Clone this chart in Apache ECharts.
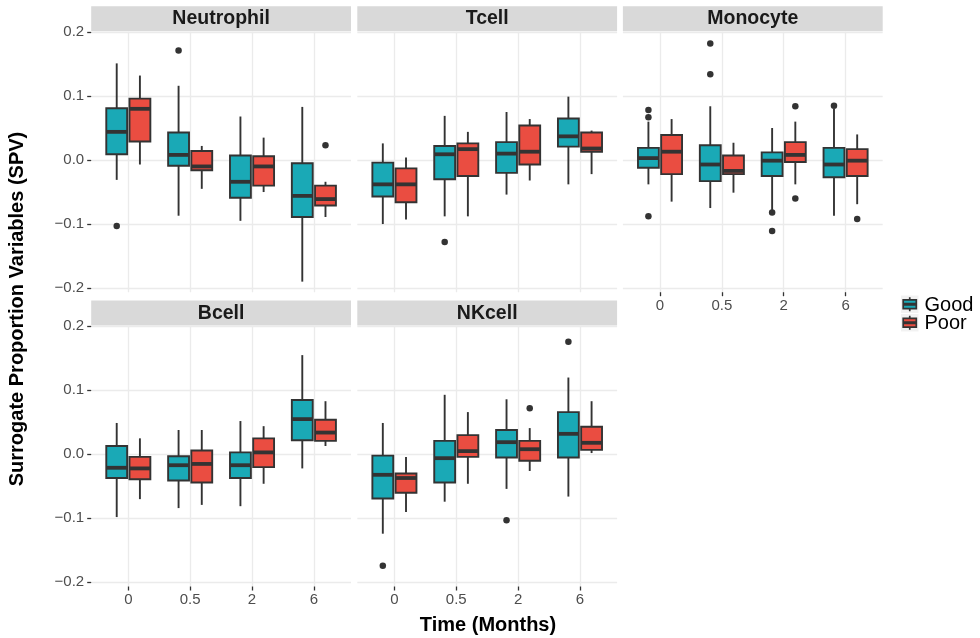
<!DOCTYPE html>
<html>
<head>
<meta charset="utf-8">
<title>Surrogate Proportion Variables by cell type</title>
<script src="https://cdn.jsdelivr.net/npm/echarts@6/dist/echarts.min.js"></script>
<style>
  html, body { margin: 0; padding: 0; background: #ffffff; }
  #chart { width: 980px; height: 638px; }
</style>
</head>
<body>
<div id="chart"></div>
<script>
// ---- data: boxplot statistics [lowerWhisker, Q1, median, Q3, upperWhisker] per time point ----
const timeLabels = ['0', '0.5', '2', '6'];
const cellTypes = ['Neutrophil', 'Tcell', 'Monocyte', 'Bcell', 'NKcell'];
const groupNames = ['Good', 'Poor'];
const yTicks = [-0.2, -0.1, 0.0, 0.1, 0.2];

const neutrophilGood = [
  [-0.031, 0.009, 0.044, 0.081, 0.151],
  [-0.087, -0.009, 0.008, 0.043, 0.116],
  [-0.095, -0.059, -0.034, 0.007, 0.068],
  [-0.190, -0.089, -0.056, -0.005, 0.083]
];
const neutrophilPoor = [
  [-0.007, 0.029, 0.080, 0.096, 0.132],
  [-0.045, -0.016, -0.010, 0.014, 0.022],
  [-0.050, -0.040, -0.010, 0.006, 0.035],
  [-0.089, -0.071, -0.061, -0.040, -0.034]
];
const tcellGood = [
  [-0.100, -0.057, -0.038, -0.004, 0.026],
  [-0.088, -0.030, 0.009, 0.022, 0.069],
  [-0.054, -0.020, 0.010, 0.028, 0.075],
  [-0.038, 0.021, 0.037, 0.065, 0.099]
];
const tcellPoor = [
  [-0.093, -0.066, -0.038, -0.013, 0.004],
  [-0.088, -0.025, 0.017, 0.026, 0.044],
  [-0.032, -0.007, 0.013, 0.054, 0.064],
  [-0.022, 0.013, 0.018, 0.043, 0.046]
];
const monocyteGood = [
  [-0.038, -0.012, 0.003, 0.019, 0.060],
  [-0.075, -0.033, -0.007, 0.023, 0.084],
  [-0.078, -0.025, -0.001, 0.012, 0.050],
  [-0.087, -0.027, -0.007, 0.019, 0.080]
];
const monocytePoor = [
  [-0.065, -0.022, 0.013, 0.039, 0.064],
  [-0.051, -0.022, -0.017, 0.007, 0.027],
  [-0.038, -0.003, 0.008, 0.028, 0.060],
  [-0.069, -0.025, -0.001, 0.017, 0.040]
];
const bcellGood = [
  [-0.098, -0.037, -0.021, 0.013, 0.049],
  [-0.084, -0.041, -0.017, -0.003, 0.038],
  [-0.081, -0.037, -0.017, 0.003, 0.052],
  [-0.022, 0.022, 0.055, 0.085, 0.155]
];
const bcellPoor = [
  [-0.070, -0.039, -0.022, -0.004, 0.025],
  [-0.079, -0.044, -0.015, 0.006, 0.038],
  [-0.046, -0.020, 0.003, 0.025, 0.044],
  [0.013, 0.021, 0.034, 0.054, 0.083]
];
const nkcellGood = [
  [-0.124, -0.069, -0.032, -0.002, 0.049],
  [-0.074, -0.044, -0.006, 0.021, 0.093],
  [-0.054, -0.005, 0.019, 0.038, 0.086],
  [-0.066, -0.005, 0.032, 0.066, 0.120]
];
const nkcellPoor = [
  [-0.090, -0.060, -0.037, -0.030, -0.004],
  [-0.046, -0.004, 0.005, 0.030, 0.066],
  [-0.026, -0.010, 0.008, 0.021, 0.041],
  [0.002, 0.007, 0.018, 0.043, 0.083]
];

// outliers: [timeIndex, value]
const neutrophilGoodOut = [[0, -0.103], [1, 0.171]];
const neutrophilPoorOut = [[3, 0.023]];
const tcellGoodOut = [[1, -0.128]];
const tcellPoorOut = [];
const monocyteGoodOut = [[0, 0.078], [0, 0.067], [0, -0.088], [1, 0.182], [1, 0.134], [2, -0.082], [2, -0.111], [3, 0.085]];
const monocytePoorOut = [[2, 0.084], [2, -0.060], [3, -0.092]];
const bcellGoodOut = [];
const bcellPoorOut = [];
const nkcellGoodOut = [[0, -0.174], [2, -0.103], [3, 0.176]];
const nkcellPoorOut = [[2, 0.072]];

const panelStats = [
  [neutrophilGood, neutrophilPoor],
  [tcellGood, tcellPoor],
  [monocyteGood, monocytePoor],
  [bcellGood, bcellPoor],
  [nkcellGood, nkcellPoor]
];
const panelOutliers = [
  [neutrophilGoodOut, neutrophilPoorOut],
  [tcellGoodOut, tcellPoorOut],
  [monocyteGoodOut, monocytePoorOut],
  [bcellGoodOut, bcellPoorOut],
  [nkcellGoodOut, nkcellPoorOut]
];

// ---- styling / layout ----
const COLORS = ['#1AA9B6', '#EA4D41'];
const INK = '#333333';
const GRID_COLOR = '#EBEBEB';
const FONT = '"Liberation Sans", Arial, Helvetica, sans-serif';
const DODGE = 0.1875;      // half of the dodge width
const BOX_W = 0.3375;      // box width in category units
const Y_MIN = -0.2065, Y_MAX = 0.2005;
const LINE_W = 1.9, MEDIAN_W = 3.8;

const colLeft = [91.2, 357.3, 622.9];
const rowTop = [31.7, 326.0];
const PANEL_W = 259.8, PANEL_H = 260.5, STRIP_H = 25.5;

// panel i -> row/col
const panelPos = [[0, 0], [0, 1], [0, 2], [1, 0], [1, 1]];
const showXLabels = [false, false, true, true, true];

function fmtY(v) {
  return v.toFixed(1).replace('-', '\u2212');
}

function renderBox(params, api) {
  const x = api.value(0);
  const pLo = api.coord([x, api.value(1)]);
  const pQ1 = api.coord([x, api.value(2)]);
  const pMd = api.coord([x, api.value(3)]);
  const pQ3 = api.coord([x, api.value(4)]);
  const pHi = api.coord([x, api.value(5)]);
  const half = api.size([BOX_W, 0])[0] / 2;
  const cx = pMd[0];
  const fill = api.visual('color');
  return {
    type: 'group',
    children: [
      { type: 'line', shape: { x1: cx, y1: pHi[1], x2: cx, y2: pQ3[1] }, style: { stroke: INK, lineWidth: LINE_W } },
      { type: 'line', shape: { x1: cx, y1: pQ1[1], x2: cx, y2: pLo[1] }, style: { stroke: INK, lineWidth: LINE_W } },
      { type: 'rect', shape: { x: cx - half, y: pQ3[1], width: half * 2, height: pQ1[1] - pQ3[1] },
        style: { fill: fill, stroke: INK, lineWidth: LINE_W } },
      { type: 'line', shape: { x1: cx - half, y1: pMd[1], x2: cx + half, y2: pMd[1] }, style: { stroke: INK, lineWidth: MEDIAN_W } }
    ]
  };
}

const grids = [], xAxes = [], yAxes = [], series = [], graphics = [];

panelPos.forEach(([r, c], i) => {
  grids.push({ left: colLeft[c], top: rowTop[r], width: PANEL_W, height: PANEL_H, containLabel: false });

  xAxes.push({
    gridIndex: i, type: 'value', min: 0.4, max: 4.6, position: 'bottom',
    axisLine: { show: false, onZero: false },
    axisTick: { show: showXLabels[i], customValues: [1, 2, 3, 4], length: 4, lineStyle: { color: INK, width: 1.3 } },
    axisLabel: {
      show: showXLabels[i], customValues: [1, 2, 3, 4], margin: 6,
      color: '#4D4D4D', fontSize: 15, fontFamily: FONT,
      formatter: v => timeLabels[Math.round(v) - 1]
    },
    splitLine: { show: true, lineStyle: { color: GRID_COLOR, width: 1.3 } }
  });

  yAxes.push({
    gridIndex: i, type: 'value', min: Y_MIN, max: Y_MAX, position: 'left',
    axisLine: { show: false, onZero: false },
    axisTick: { show: c === 0, customValues: yTicks, length: 4, lineStyle: { color: INK, width: 1.3 } },
    axisLabel: {
      show: c === 0, customValues: yTicks, margin: 7,
      color: '#4D4D4D', fontSize: 15, fontFamily: FONT,
      formatter: fmtY
    },
    splitLine: { show: true, lineStyle: { color: GRID_COLOR, width: 1.3 } }
  });

  // facet strip
  graphics.push({
    type: 'group',
    children: [
      { type: 'rect', shape: { x: colLeft[c], y: rowTop[r] - STRIP_H, width: PANEL_W, height: STRIP_H - 0.5 },
        style: { fill: '#D9D9D9' }, silent: true },
      { type: 'text', x: colLeft[c] + PANEL_W / 2, y: rowTop[r] - STRIP_H / 2,
        style: { text: cellTypes[i], fill: '#1A1A1A', font: 'bold 19.5px ' + FONT, align: 'center', verticalAlign: 'middle' } }
    ]
  });

  groupNames.forEach((g, gi) => {
    const offset = gi === 0 ? -DODGE : DODGE;
    series.push({
      name: g, type: 'custom', xAxisIndex: i, yAxisIndex: i,
      itemStyle: { color: COLORS[gi] },
      renderItem: renderBox,
      encode: { x: 0, y: [1, 2, 3, 4, 5] },
      data: panelStats[i][gi].map((s, t) => [t + 1 + offset].concat(s)),
      silent: true, z: 2
    });
    series.push({
      name: g + ' outliers', type: 'scatter', xAxisIndex: i, yAxisIndex: i,
      symbol: 'circle', symbolSize: 6.5,
      itemStyle: { color: INK, opacity: 1 },
      data: panelOutliers[i][gi].map(([t, v]) => [t + 1 + offset, v]),
      silent: true, z: 3
    });
  });
});

// axis titles
graphics.push({
  type: 'text', x: 17, y: 309, rotation: Math.PI / 2,
  style: { text: 'Surrogate Proportion Variables (SPV)', fill: '#000000', font: 'bold 20px ' + FONT, align: 'center', verticalAlign: 'middle' }
});
graphics.push({
  type: 'text', x: 488, y: 625,
  style: { text: 'Time (Months)', fill: '#000000', font: 'bold 20px ' + FONT, align: 'center', verticalAlign: 'middle' }
});

// legend keys (boxplot glyphs) and labels
groupNames.forEach((g, gi) => {
  const kx = 901, ky = 295.5 + gi * 18.5, ks = 17.5;
  graphics.push({
    type: 'group',
    children: [
      { type: 'rect', shape: { x: kx, y: ky, width: ks, height: ks }, style: { fill: '#F2F2F2' } },
      { type: 'line', shape: { x1: kx + ks / 2, y1: ky + ks * 0.1, x2: kx + ks / 2, y2: ky + ks * 0.9 }, style: { stroke: INK, lineWidth: 1.7 } },
      { type: 'rect', shape: { x: kx + ks * 0.125, y: ky + ks * 0.25, width: ks * 0.75, height: ks * 0.5 },
        style: { fill: COLORS[gi], stroke: INK, lineWidth: 1.7 } },
      { type: 'line', shape: { x1: kx + ks * 0.125, y1: ky + ks / 2, x2: kx + ks * 0.875, y2: ky + ks / 2 }, style: { stroke: INK, lineWidth: 3 } },
      { type: 'text', x: kx + ks + 6, y: ky + ks / 2 + 1,
        style: { text: g, fill: '#000000', font: '20px ' + FONT, align: 'left', verticalAlign: 'middle' } }
    ]
  });
});

const chart = echarts.init(document.getElementById('chart'), null, { renderer: 'canvas' });
chart.setOption({
  backgroundColor: '#ffffff',
  animation: false,
  grid: grids,
  xAxis: xAxes,
  yAxis: yAxes,
  series: series,
  graphic: graphics
});
</script>
</body>
</html>
